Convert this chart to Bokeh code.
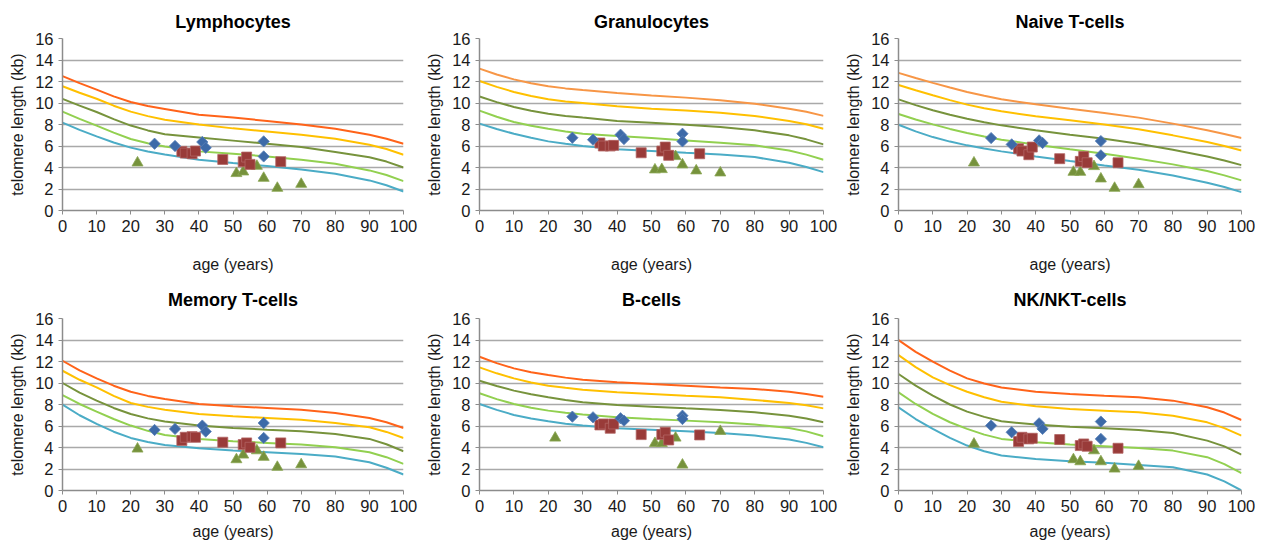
import math
from bokeh.plotting import figure
from bokeh.layouts import row, column
from bokeh.models import FixedTicker, Range1d
from bokeh.embed import file_html
from bokeh.resources import INLINE

nan = float("nan")

AGES = [0, 5, 10, 15, 20, 25, 30, 40, 50, 60, 70, 80, 90, 95, 100]
BLUE_AGES = [27, 33, 41, 42, 59, 59]
RED_AGES = [35, 36, 38, 39, 47, 53, 54, 55, 64]
GREEN_AGES = [22, 51, 53, 57, 59, 63, 70]
X_TICKS = [0, 10, 20, 30, 40, 50, 60, 70, 80, 90, 100]
Y_TICKS = [0, 2, 4, 6, 8, 10, 12, 14, 16]
TITLES = ["Lymphocytes", "Granulocytes", "Naive T-cells",
          "Memory T-cells", "B-cells", "NK/NKT-cells"]

# percentile curves (99th, 90th, 50th, 10th, 1st), read at AGES
LYM_P99 = [12.5, 11.85, 11.25, 10.62, 10.1, 9.72, 9.45, 8.9, 8.64, 8.33, 8.01, 7.6, 7.05, 6.68, 6.21]
LYM_P90 = [11.56, 10.95, 10.4, 9.75, 9.2, 8.78, 8.45, 8.0, 7.64, 7.36, 7.05, 6.68, 6.12, 5.72, 5.19]
LYM_P50 = [10.38, 9.75, 9.16, 8.5, 7.9, 7.45, 7.1, 6.8, 6.5, 6.2, 5.9, 5.45, 4.95, 4.55, 4.0]
LYM_P10 = [9.2, 8.52, 7.9, 7.25, 6.65, 6.25, 5.95, 5.5, 5.28, 5.03, 4.72, 4.35, 3.73, 3.3, 2.73]
LYM_P01 = [8.17, 7.5, 6.9, 6.33, 5.85, 5.48, 5.2, 4.72, 4.41, 4.13, 3.82, 3.42, 2.8, 2.35, 1.77]
LYM_BLUE = [6.21, 6.0, 6.37, 5.84, 6.43, 5.03]
LYM_RED = [5.5, 5.34, 5.28, 5.53, 4.75, 4.54, 4.97, 4.29, 4.54]
LYM_GREEN = [4.44, 3.45, 3.6, 4.13, 3.01, 2.08, 2.45]

GRA_P99 = [13.2, 12.65, 12.2, 11.83, 11.56, 11.36, 11.2, 10.94, 10.7, 10.5, 10.25, 9.94, 9.47, 9.18, 8.8]
GRA_P90 = [12.05, 11.5, 11.03, 10.66, 10.35, 10.15, 10.0, 9.7, 9.47, 9.3, 9.1, 8.8, 8.33, 8.02, 7.6]
GRA_P50 = [10.6, 10.08, 9.63, 9.28, 9.0, 8.8, 8.64, 8.33, 8.17, 7.98, 7.77, 7.46, 6.99, 6.62, 6.15]
GRA_P10 = [9.29, 8.72, 8.23, 7.88, 7.6, 7.35, 7.14, 6.93, 6.74, 6.52, 6.3, 6.06, 5.59, 5.2, 4.72]
GRA_P01 = [8.08, 7.58, 7.14, 6.76, 6.43, 6.2, 6.0, 5.69, 5.53, 5.37, 5.22, 4.97, 4.44, 4.05, 3.57]
GRA_BLUE = [6.77, 6.59, 7.05, 6.65, 7.14, 6.43]
GRA_RED = [6.28, 6.0, 6.0, 6.06, 5.37, 5.53, 5.9, 5.13, 5.28]
GRA_GREEN = [nan, 3.79, 3.82, 5.03, 4.26, 3.7, 3.51]

NAI_P99 = [12.8, 12.32, 11.87, 11.44, 11.03, 10.67, 10.35, 9.88, 9.47, 9.07, 8.64, 8.08, 7.46, 7.12, 6.74]
NAI_P90 = [11.68, 11.18, 10.72, 10.27, 9.85, 9.52, 9.23, 8.76, 8.39, 8.01, 7.55, 6.99, 6.37, 6.0, 5.59]
NAI_P50 = [10.34, 9.8, 9.32, 8.91, 8.54, 8.21, 7.92, 7.46, 7.05, 6.68, 6.21, 5.65, 5.03, 4.65, 4.22]
NAI_P10 = [8.98, 8.46, 8.01, 7.59, 7.21, 6.88, 6.59, 6.12, 5.69, 5.28, 4.82, 4.29, 3.67, 3.27, 2.8]
NAI_P01 = [7.98, 7.36, 6.83, 6.41, 6.06, 5.76, 5.5, 5.03, 4.6, 4.19, 3.79, 3.26, 2.58, 2.18, 1.71]
NAI_BLUE = [6.74, 6.15, 6.52, 6.28, 6.46, 5.13]
NAI_RED = [5.75, 5.53, 5.19, 5.9, 4.82, 4.57, 5.03, 4.44, 4.44]
NAI_GREEN = [4.44, 3.57, 3.57, 4.1, 2.95, 2.08, 2.42]

MEM_P99 = [12.07, 11.18, 10.43, 9.75, 9.19, 8.8, 8.51, 8.05, 7.83, 7.68, 7.52, 7.21, 6.75, 6.35, 5.82]
MEM_P90 = [11.14, 10.3, 9.59, 8.8, 8.14, 7.78, 7.52, 7.12, 6.9, 6.75, 6.59, 6.28, 5.88, 5.45, 4.89]
MEM_P50 = [10.0, 9.1, 8.36, 7.68, 7.12, 6.71, 6.41, 6.04, 5.82, 5.66, 5.51, 5.26, 4.8, 4.3, 3.65]
MEM_P10 = [8.88, 8.05, 7.34, 6.65, 6.04, 5.55, 5.17, 4.8, 4.58, 4.43, 4.27, 4.02, 3.56, 3.1, 2.48]
MEM_P01 = [7.98, 7.0, 6.19, 5.47, 4.89, 4.51, 4.24, 3.93, 3.71, 3.56, 3.4, 3.16, 2.63, 2.12, 1.49]
MEM_BLUE = [5.63, 5.73, 6.04, 5.48, 6.28, 4.89]
MEM_RED = [4.64, 4.95, 5.01, 4.95, 4.49, 4.27, 4.43, 4.02, 4.43]
MEM_GREEN = [3.87, 2.88, 3.31, 3.71, 3.1, 2.17, 2.41]

BCL_P99 = [12.44, 11.85, 11.36, 11.0, 10.74, 10.5, 10.31, 10.06, 9.9, 9.75, 9.59, 9.44, 9.19, 8.98, 8.73]
BCL_P90 = [11.45, 10.9, 10.43, 10.05, 9.75, 9.55, 9.38, 9.13, 8.98, 8.82, 8.67, 8.42, 8.14, 7.92, 7.64]
BCL_P50 = [10.21, 9.72, 9.29, 8.95, 8.67, 8.42, 8.2, 7.95, 7.8, 7.64, 7.49, 7.27, 6.96, 6.7, 6.34]
BCL_P10 = [9.04, 8.5, 8.05, 7.7, 7.43, 7.23, 7.06, 6.81, 6.65, 6.5, 6.34, 6.13, 5.82, 5.5, 5.04]
BCL_P01 = [8.05, 7.5, 7.03, 6.7, 6.44, 6.22, 6.04, 5.79, 5.66, 5.51, 5.35, 5.11, 4.74, 4.43, 4.02]
BCL_BLUE = [6.87, 6.81, 6.72, 6.5, 6.96, 6.65]
BCL_RED = [6.1, 6.19, 5.79, 6.19, 5.2, 5.2, 5.42, 4.7, 5.17]
BCL_GREEN = [4.89, 4.39, 4.39, 4.89, 2.38, nan, 5.51]

NKC_P99 = [13.99, 12.9, 11.98, 11.15, 10.43, 9.95, 9.59, 9.19, 8.98, 8.82, 8.67, 8.36, 7.74, 7.25, 6.56]
NKC_P90 = [12.6, 11.48, 10.53, 9.8, 9.19, 8.68, 8.26, 7.83, 7.58, 7.43, 7.27, 6.96, 6.34, 5.8, 5.11]
NKC_P50 = [10.84, 9.75, 8.82, 8.0, 7.34, 6.85, 6.44, 6.13, 5.94, 5.79, 5.63, 5.35, 4.64, 4.1, 3.34]
NKC_P10 = [9.13, 8.05, 7.12, 6.35, 5.73, 5.2, 4.8, 4.49, 4.27, 4.12, 3.96, 3.71, 3.1, 2.45, 1.61]
NKC_P01 = [7.74, 6.65, 5.73, 4.9, 4.18, 3.65, 3.25, 2.94, 2.72, 2.57, 2.38, 2.17, 1.49, 0.85, 0.0]
NKC_BLUE = [6.04, 5.42, 6.25, 5.73, 6.41, 4.8]
NKC_RED = [4.55, 4.95, 4.8, 4.86, 4.74, 4.18, 4.33, 4.12, 3.93]
NKC_GREEN = [4.33, 2.88, 2.69, 3.71, 2.69, 2.01, 2.26]

RED_ORANGE = "#FF6319"
LIGHT_ORANGE = "#F79646"
C90 = "#FFC000"
C50 = "#77933C"
C10 = "#92D050"
C01 = "#4BACC6"

FONT = "Liberation Sans"

PANELS = [
    (LYM_P99, LYM_P90, LYM_P50, LYM_P10, LYM_P01, LYM_BLUE, LYM_RED, LYM_GREEN, RED_ORANGE),
    (GRA_P99, GRA_P90, GRA_P50, GRA_P10, GRA_P01, GRA_BLUE, GRA_RED, GRA_GREEN, LIGHT_ORANGE),
    (NAI_P99, NAI_P90, NAI_P50, NAI_P10, NAI_P01, NAI_BLUE, NAI_RED, NAI_GREEN, LIGHT_ORANGE),
    (MEM_P99, MEM_P90, MEM_P50, MEM_P10, MEM_P01, MEM_BLUE, MEM_RED, MEM_GREEN, RED_ORANGE),
    (BCL_P99, BCL_P90, BCL_P50, BCL_P10, BCL_P01, BCL_BLUE, BCL_RED, BCL_GREEN, RED_ORANGE),
    (NKC_P99, NKC_P90, NKC_P50, NKC_P10, NKC_P01, NKC_BLUE, NKC_RED, NKC_GREEN, RED_ORANGE),
]

# layout geometry: (width, left, right) per column;
# (height, top, bottom, x-label standoff, title standoff) per row
COLS = [(420, 62, 17), (420, 59, 17), (420, 58, 19)]
ROWS = [(278, 38, 68, 21, 13), (266, 40, 54, 8, 18)]


def make_panel(i):
    p99, p90, p50, p10, p01, blue, red, green, c99 = PANELS[i]
    w, left, right = COLS[i % 3]
    h, top, bottom, lab_sd, t_sd = ROWS[i // 3]
    p = figure(width=w, height=h, x_range=Range1d(0, 100), y_range=Range1d(0, 16),
               output_backend="svg", toolbar_location=None, title=TITLES[i],
               min_border_left=left, min_border_right=right,
               min_border_top=top, min_border_bottom=bottom)
    p.outline_line_color = None
    p.background_fill_color = "white"
    p.border_fill_color = "white"
    p.title.align = "center"
    p.title.text_font = FONT
    p.title.text_font_size = "18px"
    p.title.text_font_style = "bold"
    p.title.text_color = "black"
    p.title.standoff = t_sd

    p.xgrid.visible = False
    p.ygrid.ticker = FixedTicker(ticks=Y_TICKS)
    p.ygrid.grid_line_color = "#A9A9A9"
    p.ygrid.grid_line_width = 1.3

    p.xaxis.ticker = FixedTicker(ticks=X_TICKS)
    p.yaxis.ticker = FixedTicker(ticks=Y_TICKS)
    for ax in (p.xaxis, p.yaxis):
        ax.axis_line_color = "#8C8C8C"
        ax.axis_line_width = 1.5
        ax.major_tick_line_color = "#8C8C8C"
        ax.major_tick_in = 0
        ax.major_tick_out = 4
        ax.minor_tick_line_color = None
        ax.major_label_text_font = FONT
        ax.major_label_text_font_size = "16.5px"
        ax.major_label_text_color = "#1A1A1A"
        ax.major_label_standoff = 5
        ax.axis_label_text_font = FONT
        ax.axis_label_text_font_size = "16px"
        ax.axis_label_text_font_style = "normal"
        ax.axis_label_text_color = "#1A1A1A"
    p.xaxis.axis_label = "age (years)"
    p.xaxis.axis_label_standoff = lab_sd
    p.yaxis.axis_label = "telomere length (kb)"
    p.yaxis.axis_label_standoff = 6

    for vals, col in ((p01, C01), (p10, C10), (p50, C50), (p90, C90), (p99, c99)):
        p.line(AGES, vals, line_color=col, line_width=2)

    p.scatter(GREEN_AGES, green, marker="triangle", size=11,
              fill_color="#76923C", line_color="#8AA653", line_width=0.8)
    p.scatter(RED_AGES, red, marker="square", size=10,
              fill_color="#993B39", line_color="#B36463", line_width=0.8)
    p.scatter(BLUE_AGES, blue, marker="square", size=8, angle=math.pi / 4,
              fill_color="#3D6AA8", line_color="#5A82B8", line_width=0.8)
    return p


figs = [make_panel(i) for i in range(6)]
layout = column(row(*figs[:3]), row(*figs[3:]))
open("out.html", "w").write(file_html(layout, INLINE))
